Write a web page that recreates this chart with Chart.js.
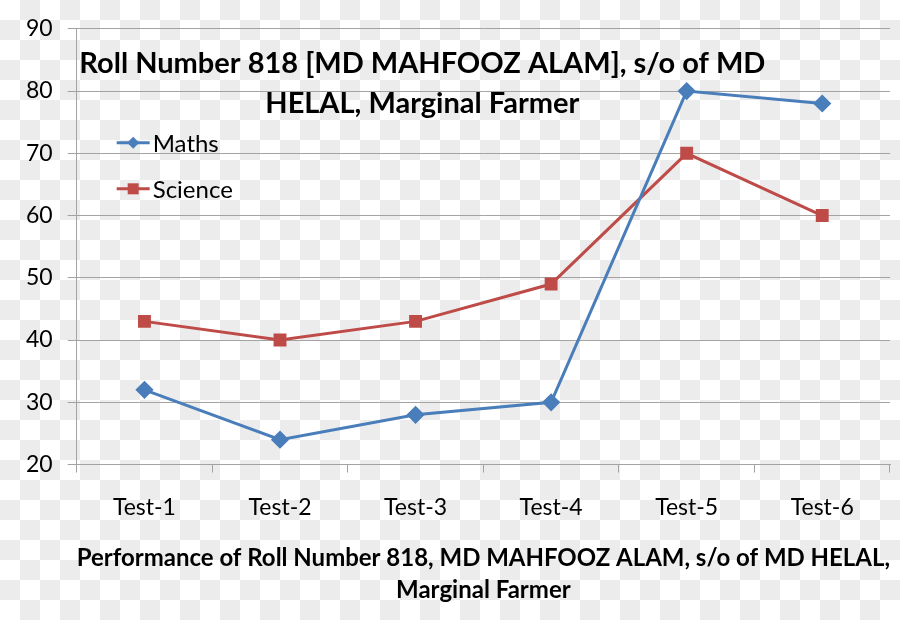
<!DOCTYPE html>
<html>
<head>
<meta charset="utf-8">
<script src="https://cdn.jsdelivr.net/npm/chart.js@4"></script>
<style>
  html, body { margin: 0; padding: 0; }
  body {
    width: 900px; height: 620px;
    background: repeating-conic-gradient(#ececec 0 25%, #ffffff 0 50%) 0 0 / 40px 40px;
  }
  #wrap { width: 900px; height: 620px; position: relative; }
</style>
</head>
<body>
<div id="wrap"><canvas id="c"></canvas></div>
<script>
const categories = ["Test-1", "Test-2", "Test-3", "Test-4", "Test-5", "Test-6"];
const mathsValues = [32, 24, 28, 30, 80, 78];
const scienceValues = [43, 40, 43, 49, 70, 60];
const seriesNames = ["Maths", "Science"];
const chartTitle = ["Roll Number 818 [MD MAHFOOZ ALAM], s/o of MD", "HELAL, Marginal Farmer"];
const xAxisTitle = ["Performance of Roll Number 818, MD MAHFOOZ ALAM, s/o of MD HELAL,", "Marginal Farmer"];
const yMin = 20, yMax = 90, yStep = 10;

const FONT = "Lato, 'Noto Sans', sans-serif";
const BLUE = "#4a7ebb";
const RED = "#be4b48";
const GRID = "#a3a3a3";

const overlayPlugin = {
  id: "overlay",
  afterDraw(chart) {
    const ctx = chart.ctx;
    const a = chart.chartArea;
    ctx.save();
    // title inside plot area
    ctx.fillStyle = "#000";
    ctx.font = "bold 29px " + FONT;
    ctx.textAlign = "center";
    ctx.textBaseline = "middle";
    const cx = a.left + (a.right - a.left) * 0.425;
    ctx.fillText(chartTitle[0], cx, a.top + 35);
    ctx.fillText(chartTitle[1], cx, a.top + 75);
    // legend inside plot area
    const ds = chart.data.datasets;
    const lx = a.left + 40;
    const rows = [a.top + 114, a.top + 160];
    ds.forEach((d, i) => {
      const y = rows[i];
      ctx.strokeStyle = d.borderColor;
      ctx.lineWidth = 3;
      ctx.beginPath();
      ctx.moveTo(lx, y);
      ctx.lineTo(lx + 33, y);
      ctx.stroke();
      ctx.fillStyle = d.borderColor;
      ctx.beginPath();
      if (d.pointStyle === "rectRot") {
        const r = 6;
        ctx.moveTo(lx + 16.5, y - r);
        ctx.lineTo(lx + 16.5 + r, y);
        ctx.lineTo(lx + 16.5, y + r);
        ctx.lineTo(lx + 16.5 - r, y);
        ctx.closePath();
      } else {
        ctx.rect(lx + 16.5 - 5.5, y - 5.5, 11, 11);
      }
      ctx.fill();
      ctx.fillStyle = "#000";
      ctx.font = "24px " + FONT;
      ctx.textAlign = "left";
      ctx.fillText(d.label, lx + 36, y + 1);
    });
    ctx.restore();
  }
};

new Chart(document.getElementById("c"), {
  type: "line",
  data: {
    labels: categories,
    datasets: [
      {
        label: seriesNames[0],
        data: mathsValues,
        borderColor: BLUE,
        backgroundColor: BLUE,
        borderWidth: 3,
        pointStyle: "rectRot",
        pointRadius: 7,
        pointHoverRadius: 7,
        tension: 0
      },
      {
        label: seriesNames[1],
        data: scienceValues,
        borderColor: RED,
        backgroundColor: RED,
        borderWidth: 3,
        pointStyle: "rect",
        pointRadius: 7,
        pointHoverRadius: 7,
        tension: 0
      }
    ]
  },
  options: {
    responsive: true,
    maintainAspectRatio: false,
    animation: false,
    layout: { padding: { top: 26, right: -5, bottom: 14, left: 11 } },
    plugins: {
      legend: { display: false },
      title: { display: false },
      tooltip: { enabled: false }
    },
    scales: {
      x: {
        offset: true,
        grid: {
          offset: true,
          drawOnChartArea: false,
          drawTicks: true,
          tickLength: 8,
          color: GRID
        },
        border: { display: true, color: GRID, width: 1 },
        ticks: {
          color: "#000",
          font: { family: FONT, size: 23 },
          padding: 21,
          maxRotation: 0
        },
        title: {
          display: true,
          text: xAxisTitle,
          color: "#000",
          font: { family: FONT, size: 24, weight: "bold", lineHeight: 1.33 },
          padding: { top: 0, bottom: 0 }
        }
      },
      y: {
        min: yMin,
        max: yMax,
        grid: {
          color: GRID,
          drawTicks: true,
          tickLength: 9
        },
        border: { display: true, color: GRID, width: 1 },
        ticks: {
          stepSize: yStep,
          color: "#000",
          font: { family: FONT, size: 23 },
          padding: 15
        }
      }
    }
  },
  plugins: [overlayPlugin]
});
</script>
</body>
</html>
